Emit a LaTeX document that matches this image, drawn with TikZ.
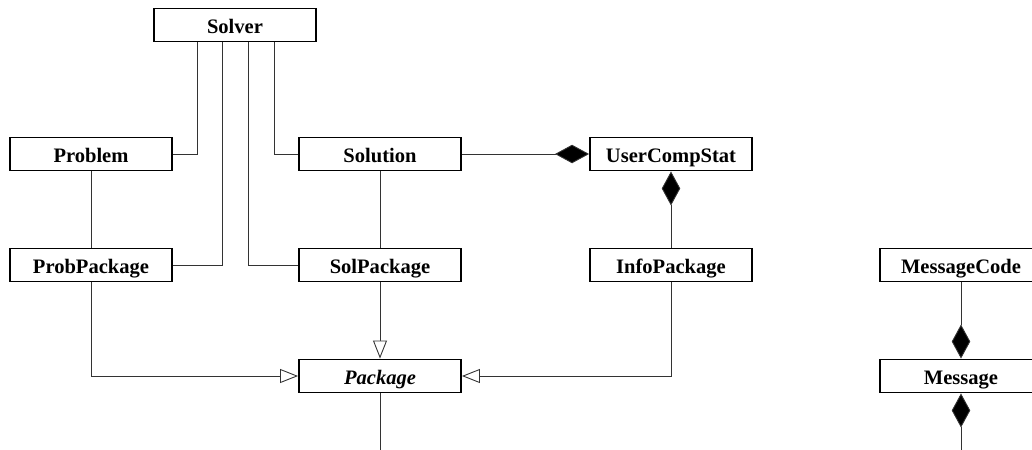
\documentclass[tikz,border=0pt]{standalone}
\usepackage{fontspec}
\setmainfont{Liberation Serif}
\usetikzlibrary{arrows.meta}

\tikzset{
  cls/.style={draw, line width=1.1pt, fill=white, minimum width=3.24cm,
    minimum height=0.66cm, inner sep=0pt, text height=10pt, text depth=0pt,
    font=\fontsize{11.7}{14}\selectfont\bfseries},
  link/.style={draw=black!80, line width=0.5pt},
  comp/.style={link, {Diamond[length=0.68cm,width=0.37cm,fill=black]}-},
  inh/.style={link, -{Triangle[open,length=0.36cm,width=0.28cm,fill=white]}},
}

\begin{document}
\begin{tikzpicture}[x=0.02cm, y=-0.02cm]
	\useasboundingbox (0,0) rectangle (1032,450);
	% classes
	\node[cls] (Solver) at (235,25) {Solver};
	\node[cls] (Problem) at (91,154) {Problem};
	\node[cls] (Solution) at (380,154) {Solution};
	\node[cls] (UserCompStat) at (671,154) {UserCompStat};
	\node[cls] (ProbPackage) at (91,265) {ProbPackage};
	\node[cls] (SolPackage) at (380,265) {SolPackage};
	\node[cls] (InfoPackage) at (671,265) {InfoPackage};
	\node[cls] (Package) at (380,376) {\itshape Package};
	\node[cls] (MessageCode) at (961,265) {MessageCode};
	\node[cls] (Message) at (961,376) {Message};
	\coordinate (pkgend) at (380,450);
	\coordinate (msgend) at (961,450);

	% associations from the solver
	\draw[link] ([xshift=-0.76cm]Solver.south) |- (Problem.east);
	\draw[link] ([xshift=-0.26cm]Solver.south) |- (ProbPackage.east);
	\draw[link] ([xshift=0.26cm]Solver.south) |- (SolPackage.west);
	\draw[link] ([xshift=0.78cm]Solver.south) |- (Solution.west);
	\draw[link] (Problem) -- (ProbPackage);
	\draw[link] (Solution) -- (SolPackage);

	% compositions
	\draw[comp] (UserCompStat.west) -- (Solution.east);
	\draw[comp] (UserCompStat.south) -- (InfoPackage.north);
	\draw[comp] (Message.north) -- (MessageCode.south);
	\draw[comp] (Message.south) -- (msgend);

	% generalisations
	\draw[inh] (ProbPackage.south) |- (Package.west);
	\draw[inh] (SolPackage.south) -- (Package.north);
	\draw[inh] (InfoPackage.south) |- (Package.east);
	\draw[link] (Package.south) -- (pkgend);
\end{tikzpicture}
\end{document}
